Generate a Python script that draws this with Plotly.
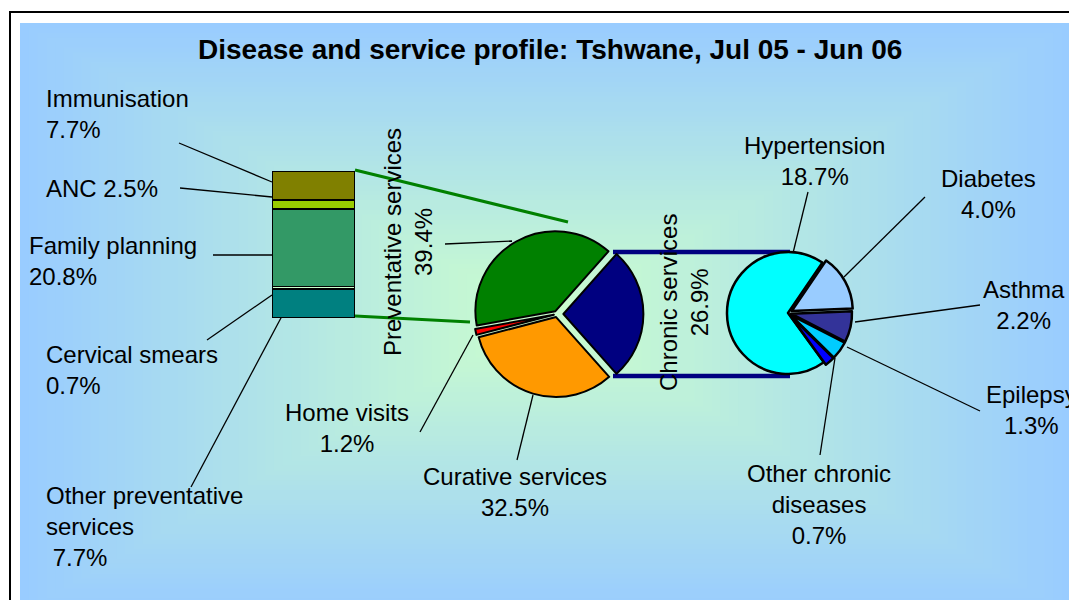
import plotly.graph_objects as go

W, H = 1077, 600
OFF = 8  # page margin around the plot div
FONT = "Liberation Sans, Arial, sans-serif"

title = "Disease and service profile: Tshwane, Jul 05 - Jun 06"

# preventative services breakdown, stacked bar (bottom to top)
prev_labels = ["Other preventative<br>services<br>\u00a0", "Cervical smears<br>", "Family planning<br>", "ANC ", "Immunisation<br>"]
prev_values = [7.7, 0.7, 20.8, 2.5, 7.7]
prev_colors = ["#008080", "#ccffcc", "#339966", "#99cc00", "#808000"]

# all services, middle pie (clockwise from the top-left)
svc_labels = ["Preventative services<br>", "Chronic services<br>", "Curative services<br>", "Home visits<br>"]
svc_values = [39.4, 26.9, 32.5, 1.2]
svc_colors = ["#008000", "#000080", "#ff9900", "#ff0000"]
svc_pull = [0.04, 0.08, 0.04, 0.04]

# chronic services breakdown, right pie
chr_labels = ["Hypertension<br>", "Diabetes<br>", "Asthma<br>", "Epilepsy<br>", "Other chronic<br>diseases<br>"]
chr_values = [18.7, 4.0, 2.2, 1.3, 0.7]
chr_colors = ["#00ffff", "#99ccff", "#333399", "#00ccff", "#0000ff"]
chr_pull = [0, 0.07, 0.05, 0.05, 0.05]

# label placement (page pixels), text angle
prev_pos = [(44, 526, "left"), (44, 370, "left"), (27, 261, "left"), (44, 188, "left"), (44, 114, "left")]
svc_pos = [(408, 242, -90), (684, 303, -90), (515, 492, 0), (347, 428, 0)]
chr_pos = [(814, 161), (988, 194), (1024, 305), (1031, 410), (819, 504)]

# leader lines
leaders = [
    (179, 143, 272, 182), (180, 188, 272, 197), (213, 255, 272, 255),
    (207, 340, 272, 295), (191, 487, 282, 316),
    (445, 244, 512, 241), (420, 432, 473, 335), (517, 460, 533, 395),
    (808, 192, 793, 253), (925, 197, 844, 277), (980, 305, 855, 322),
    (980, 411, 847, 347), (820, 455, 835, 358),
]


def px_x(x):
    return (x - OFF) / W


def px_y(y):
    return 1 - (y - OFF) / H


fig = go.Figure()

# stacked bar
for lab, val, col in zip(prev_labels, prev_values, prev_colors):
    fig.add_trace(go.Bar(x=[0], y=[val], width=1, name=lab,
                         marker=dict(color=col, line=dict(color="black", width=1.6)),
                         xaxis="x2", yaxis="y2", showlegend=False, hoverinfo="skip"))

# middle pie
mcx, mcy, mr = 557, 314, 80
mh = mr * (1 + max(svc_pull))
fig.add_trace(go.Pie(values=svc_values, labels=svc_labels, sort=False, direction="clockwise",
                     rotation=-100.3, pull=svc_pull, textinfo="none", hoverinfo="skip",
                     marker=dict(colors=svc_colors, line=dict(color="black", width=2)),
                     domain=dict(x=[px_x(mcx - mh), px_x(mcx + mh)], y=[px_y(mcy + mh), px_y(mcy - mh)]),
                     showlegend=False))

# right pie
rcx, rcy, rr = 788, 313, 61
rh = rr * (1 + max(chr_pull))
fig.add_trace(go.Pie(values=chr_values, labels=chr_labels, sort=False, direction="clockwise",
                     rotation=144, pull=chr_pull, textinfo="none", hoverinfo="skip",
                     marker=dict(colors=chr_colors, line=dict(color="black", width=2.5)),
                     domain=dict(x=[px_x(rcx - rh), px_x(rcx + rh)], y=[px_y(rcy + rh), px_y(rcy - rh)]),
                     showlegend=False))

shapes = []
# outer frame
shapes.append(dict(type="rect", xref="x", yref="y", x0=10, y0=12, x1=1110, y1=650,
                   line=dict(color="black", width=2), fillcolor="white", layer="below"))
# centre gradient of the plot panel
mint = (204, 255, 204)
blue = (153, 204, 255)
gx, gy, hw, hh = 545.5, 318, 525.5, 295
N = 60
for k in range(N):
    t = 1 - k / N
    c = tuple(round(mint[i] + (blue[i] - mint[i]) * t) for i in range(3))
    shapes.append(dict(type="rect", xref="x", yref="y",
                       x0=gx - hw * t, x1=gx + hw * t, y0=gy - hh * t, y1=gy + hh * t,
                       line=dict(width=0), fillcolor="rgb(%d,%d,%d)" % c, layer="below"))
# connectors
shapes.append(dict(type="line", xref="x", yref="y", x0=355, y0=170, x1=568, y1=222,
                   line=dict(color="#008000", width=3), layer="below"))
shapes.append(dict(type="line", xref="x", yref="y", x0=355, y0=316, x1=470, y1=322,
                   line=dict(color="#008000", width=3), layer="below"))
shapes.append(dict(type="line", xref="x", yref="y", x0=613, y0=252, x1=790, y1=252,
                   line=dict(color="#000080", width=4.5), layer="below"))
shapes.append(dict(type="line", xref="x", yref="y", x0=613, y0=376, x1=790, y1=376,
                   line=dict(color="#000080", width=4.5), layer="below"))
for x0, y0, x1, y1 in leaders:
    shapes.append(dict(type="line", xref="x", yref="y", x0=x0, y0=y0, x1=x1, y1=y1,
                       line=dict(color="black", width=1.3), layer="below"))

annotations = [dict(x=549.5, y=49, xref="x", yref="y", text="<b>" + title + "</b>", showarrow=False,
                    font=dict(family=FONT, size=28, color="black"))]
for lab, val, (x, y, anc) in zip(prev_labels, prev_values, prev_pos):
    annotations.append(dict(x=x, y=y, xref="x", yref="y", text="%s%.1f%%" % (lab, val),
                            showarrow=False, xanchor=anc, align="left",
                            font=dict(family=FONT, size=24, color="black")))
for lab, val, (x, y, ang) in zip(svc_labels, svc_values, svc_pos):
    annotations.append(dict(x=x, y=y, xref="x", yref="y", text="%s%.1f%%" % (lab, val),
                            showarrow=False, textangle=ang,
                            font=dict(family=FONT, size=24, color="black")))
for lab, val, (x, y) in zip(chr_labels, chr_values, chr_pos):
    annotations.append(dict(x=x, y=y, xref="x", yref="y", text="%s%.1f%%" % (lab, val),
                            showarrow=False,
                            font=dict(family=FONT, size=24, color="black")))

fig.update_layout(
    width=W, height=H, margin=dict(l=0, r=0, t=0, b=0),
    paper_bgcolor="white", plot_bgcolor="rgba(0,0,0,0)",
    barmode="stack", showlegend=False,
    xaxis=dict(range=[OFF, W + OFF], domain=[0, 1], visible=False, fixedrange=True),
    yaxis=dict(range=[H + OFF, OFF], domain=[0, 1], visible=False, fixedrange=True),
    xaxis2=dict(range=[-0.5, 0.5], domain=[px_x(272), px_x(355)], anchor="y2", visible=False, fixedrange=True),
    yaxis2=dict(range=[0, sum(prev_values)], domain=[px_y(318), px_y(171)], anchor="x2", visible=False, fixedrange=True),
    shapes=shapes, annotations=annotations,
)

fig.write_html("out.html")
